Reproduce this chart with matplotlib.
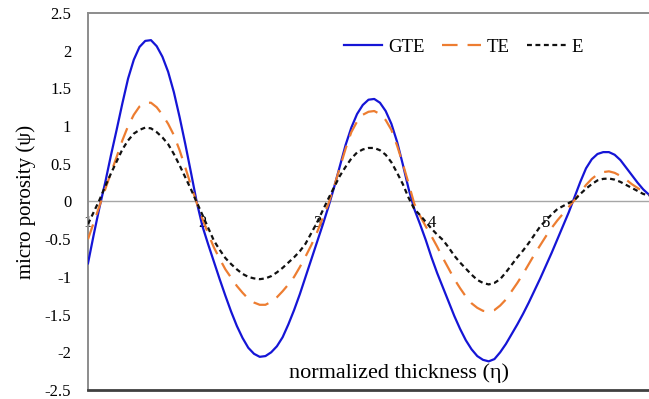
import matplotlib
matplotlib.use("Agg")
import matplotlib.pyplot as plt

eta = [1.00, 1.05, 1.10, 1.15, 1.20, 1.25, 1.30, 1.35, 1.40, 1.45,
       1.50, 1.55, 1.60, 1.65, 1.70, 1.75, 1.80, 1.85, 1.90, 1.95,
       2.00, 2.05, 2.10, 2.15, 2.20, 2.25, 2.30, 2.35, 2.40, 2.45,
       2.50, 2.55, 2.60, 2.65, 2.70, 2.75, 2.80, 2.85, 2.90, 2.95,
       3.00, 3.05, 3.10, 3.15, 3.20, 3.25, 3.30, 3.35, 3.40, 3.45,
       3.50, 3.55, 3.60, 3.65, 3.70, 3.75, 3.80, 3.85, 3.90, 3.95,
       4.00, 4.05, 4.10, 4.15, 4.20, 4.25, 4.30, 4.35, 4.40, 4.45,
       4.50, 4.55, 4.60, 4.65, 4.70, 4.75, 4.80, 4.85, 4.90, 4.95,
       5.00, 5.05, 5.10, 5.15, 5.20, 5.25, 5.30, 5.35, 5.40, 5.45,
       5.50, 5.55, 5.60, 5.65, 5.70, 5.75, 5.80, 5.85, 5.90]

gte = [-0.82, -0.44, -0.08, 0.25, 0.61, 0.95, 1.30, 1.63, 1.88, 2.05,
       2.13, 2.14, 2.06, 1.92, 1.72, 1.45, 1.12, 0.76, 0.38, -0.01,
       -0.33, -0.57, -0.80, -1.03, -1.25, -1.46, -1.65, -1.81, -1.94, -2.02,
       -2.06, -2.05, -2.00, -1.92, -1.80, -1.63, -1.44, -1.23, -1.00, -0.77,
       -0.54, -0.31, -0.07, 0.19, 0.47, 0.75, 0.98, 1.16, 1.28, 1.35,
       1.36, 1.31, 1.20, 1.03, 0.79, 0.49, 0.17, -0.10, -0.30, -0.51,
       -0.74, -0.95, -1.14, -1.33, -1.52, -1.69, -1.84, -1.96, -2.05, -2.10,
       -2.12, -2.09, -2.00, -1.89, -1.76, -1.63, -1.49, -1.34, -1.18, -1.02,
       -0.85, -0.68, -0.50, -0.32, -0.14, 0.06, 0.26, 0.44, 0.56, 0.63,
       0.655, 0.655, 0.62, 0.55, 0.45, 0.35, 0.25, 0.16, 0.09]

te = [-0.50, -0.28, -0.06, 0.16, 0.38, 0.59, 0.81, 1.00, 1.15, 1.26,
      1.31, 1.31, 1.25, 1.15, 1.03, 0.88, 0.68, 0.45, 0.21, -0.02,
      -0.23, -0.43, -0.61, -0.76, -0.90, -1.01, -1.12, -1.21, -1.29, -1.34,
      -1.37, -1.37, -1.33, -1.27, -1.19, -1.10, -1.00, -0.87, -0.73, -0.58,
      -0.41, -0.22, -0.03, 0.20, 0.45, 0.70, 0.92, 1.06, 1.15, 1.19,
      1.20, 1.16, 1.08, 0.95, 0.74, 0.50, 0.24, -0.03, -0.19, -0.33,
      -0.46, -0.60, -0.75, -0.89, -1.03, -1.15, -1.26, -1.35, -1.41, -1.45,
      -1.46, -1.44, -1.38, -1.30, -1.19, -1.08, -0.96, -0.83, -0.70, -0.58,
      -0.46, -0.35, -0.25, -0.16, -0.07, 0.02, 0.12, 0.22, 0.30, 0.36,
      0.39, 0.40, 0.38, 0.34, 0.29, 0.23, 0.18, 0.13, 0.09]

e = [-0.30, -0.14, 0.02, 0.20, 0.37, 0.53, 0.69, 0.81, 0.90, 0.95,
     0.98, 0.97, 0.92, 0.85, 0.76, 0.63, 0.48, 0.32, 0.16, -0.01,
     -0.18, -0.35, -0.52, -0.64, -0.75, -0.83, -0.90, -0.96, -1.00, -1.02,
     -1.03, -1.02, -0.99, -0.94, -0.88, -0.81, -0.74, -0.66, -0.56, -0.42,
     -0.28, -0.12, 0.04, 0.19, 0.34, 0.46, 0.57, 0.65, 0.69, 0.71,
     0.71, 0.68, 0.62, 0.52, 0.38, 0.23, 0.05, -0.10, -0.18, -0.27,
     -0.36, -0.44, -0.51, -0.61, -0.72, -0.81, -0.89, -0.97, -1.04, -1.08,
     -1.10, -1.08, -1.03, -0.94, -0.84, -0.74, -0.65, -0.55, -0.44, -0.33,
     -0.25, -0.17, -0.10, -0.06, -0.02, 0.02, 0.10, 0.17, 0.23, 0.28,
     0.30, 0.305, 0.29, 0.26, 0.22, 0.18, 0.14, 0.10, 0.08]

series_names = ["GTE", "TE", "E"]
x_ticks = [1, 2, 3, 4, 5]
y_ticks = [-2.5, -2, -1.5, -1, -0.5, 0, 0.5, 1, 1.5, 2, 2.5]
y_tick_labels = ["-2.5", "-2", "-1.5", "-1", "-0.5", "0", "0.5", "1", "1.5", "2", "2.5"]

plt.rcParams['font.family'] = ['Liberation Serif', 'DejaVu Serif']

fig = plt.figure(figsize=(6.49, 3.99), dpi=100)
ax = fig.add_axes([88/649, 1 - 390/399, 1 - 88/649, (390 - 13)/399])

ax.axhline(0, color='#a6a6a6', lw=1.0, zorder=1)

ax.plot(eta, gte, color='#1515d6', lw=1.6, label=series_names[0], zorder=3)
ax.plot(eta, te, color='#ed7d31', lw=1.6, dashes=(7, 4.5), label=series_names[1], zorder=3)
ax.plot(eta, e, color='#111111', lw=1.6, dashes=(2.2, 1.6), label=series_names[2], zorder=3)

ax.set_xlim(1, 5.9)
ax.set_ylim(-2.5, 2.5)
ax.set_yticks(y_ticks)
ax.set_yticklabels(y_tick_labels, fontsize=12)
ax.tick_params(axis='y', length=0, pad=12)
ax.set_xticks([])

for xv in x_ticks:
    ax.text(xv, -0.29, str(xv), ha='center', va='center', fontsize=12, zorder=2)

for s in ['left', 'top']:
    ax.spines[s].set_color('#8c8c8c')
    ax.spines[s].set_linewidth(1.4)
ax.spines['bottom'].set_color('#404040')
ax.spines['bottom'].set_linewidth(2.0)
ax.spines['right'].set_visible(False)

ax.set_ylabel("micro porosity (\u03c8)", fontsize=15, labelpad=6)
ax.text(3.72, -2.27, "normalized thickness (\u03b7)", ha='center', va='center', fontsize=16)

leg = ax.legend(loc='center left', bbox_to_anchor=((344 - 88) / 561, (390 - 47) / 377), ncol=3,
                frameon=False, fontsize=13.5, handlelength=2.05, columnspacing=0.95,
                handletextpad=0.3, borderpad=0, borderaxespad=0)

fig.savefig("out.png", dpi=100)
